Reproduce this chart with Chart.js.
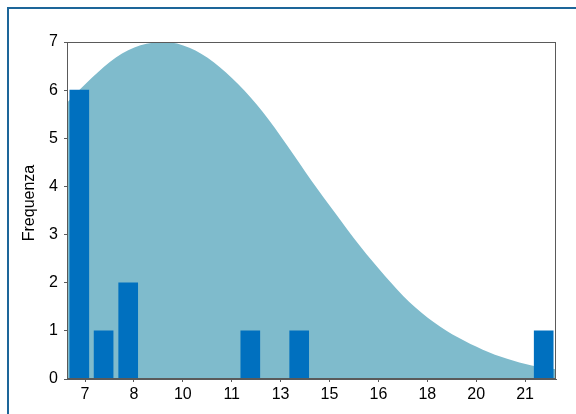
<!DOCTYPE html>
<html>
<head>
<meta charset="utf-8">
<script src="https://cdn.jsdelivr.net/npm/chart.js@4/dist/chart.umd.min.js"></script>
<style>
  html, body { margin: 0; padding: 0; background: #ffffff; overflow: hidden; }
  #wrap { position: relative; width: 576px; height: 414px; }
  #frame { position: absolute; left: 7px; top: 7px; width: 620px; height: 460px;
           border: 2px solid #1d6699; box-sizing: border-box; pointer-events: none; }
  canvas { position: absolute; left: 0; top: 0; }
</style>
</head>
<body>
<div id="wrap">
  <canvas id="c" width="576" height="414"></canvas>
  <div id="frame"></div>
</div>
<script>
// Histogram bins (bin centres) and counts
const binCenters = [6.84, 7.65, 8.47, 12.54, 14.17, 22.32];
const binCounts  = [6, 1, 2, 1, 1, 1];

// Fitted normal curve (x, height)
const curveX = [6.43, 7.25, 8.06, 8.88, 9.69, 10.51, 11.32, 12.14, 12.95, 13.77, 14.58,
                15.40, 16.21, 17.03, 17.84, 18.66, 19.47, 20.29, 21.10, 21.92, 22.73];
const curveY = [5.74, 6.25, 6.68, 6.93, 7.00, 6.88, 6.58, 6.12, 5.55, 4.85, 4.12,
                3.42, 2.75, 2.14, 1.60, 1.18, 0.86, 0.61, 0.42, 0.28, 0.20];

// X axis tick positions and their labels
const xTickValues = [7.03, 8.66, 10.29, 11.92, 13.55, 15.18, 16.81, 18.44, 20.07, 21.70];
const xTickLabels = ['7', '8', '10', '11', '13', '15', '16', '18', '20', '21'];

const yTitle = 'Frequenza';

const FONT = '"Liberation Sans", Arial, sans-serif';

const frameBox = {
  id: 'frameBox',
  afterDraw(chart) {
    const a = chart.chartArea, ctx = chart.ctx;
    ctx.save();
    ctx.strokeStyle = '#5a5a5a';
    ctx.lineWidth = 1;
    ctx.strokeRect(Math.round(a.left) + 0.5, Math.round(a.top) + 0.5,
                   Math.round(a.right - a.left) - 1, Math.round(a.bottom - a.top) - 1);
    // y axis title
    ctx.fillStyle = '#000';
    ctx.font = '16px ' + FONT;
    ctx.textAlign = 'center';
    ctx.textBaseline = 'middle';
    ctx.translate(30, 203);
    ctx.rotate(-Math.PI / 2);
    ctx.fillText(yTitle, 0, 0);
    ctx.restore();
  }
};

new Chart(document.getElementById('c'), {
  type: 'bar',
  data: {
    datasets: [
      {
        type: 'bar',
        data: binCenters.map((x, i) => ({ x: x, y: binCounts[i] })),
        backgroundColor: '#0070bf',
        borderWidth: 0,
        barThickness: 19,
        order: 1
      },
      {
        type: 'line',
        data: curveX.map((x, i) => ({ x: x, y: curveY[i] })),
        backgroundColor: '#7fbbcc',
        borderWidth: 0,
        borderColor: 'rgba(0,0,0,0)',
        pointRadius: 0,
        fill: 'origin',
        cubicInterpolationMode: 'monotone',
        order: 2
      }
    ]
  },
  options: {
    responsive: false,
    animation: false,
    devicePixelRatio: 1,
    layout: { padding: { left: 0, top: 42, right: 20, bottom: 0 } },
    plugins: { legend: { display: false }, tooltip: { enabled: false } },
    scales: {
      x: {
        type: 'linear',
        min: 6.43,
        max: 22.73,
        offset: false,
        afterBuildTicks(scale) { scale.ticks = xTickValues.map(v => ({ value: v })); },
        afterFit(scale) { scale.height = 35; },
        ticks: {
          autoSkip: false,
          maxRotation: 0,
          padding: 3,
          color: '#000',
          font: { family: FONT, size: 16 },
          callback: (v, i) => xTickLabels[i]
        },
        grid: { display: true, drawOnChartArea: false, drawTicks: true, tickLength: 3,
                color: '#5a5a5a', offset: false },
        border: { display: true, color: '#5a5a5a', width: 1 }
      },
      y: {
        min: 0,
        max: 7,
        afterFit(scale) { scale.width = 67; },
        ticks: {
          stepSize: 1,
          padding: 6,
          color: '#000',
          font: { family: FONT, size: 16 }
        },
        grid: { display: true, drawOnChartArea: false, drawTicks: true, tickLength: 3,
                color: '#5a5a5a' },
        border: { display: true, color: '#5a5a5a', width: 1 }
      }
    }
  },
  plugins: [frameBox]
});
</script>
</body>
</html>
